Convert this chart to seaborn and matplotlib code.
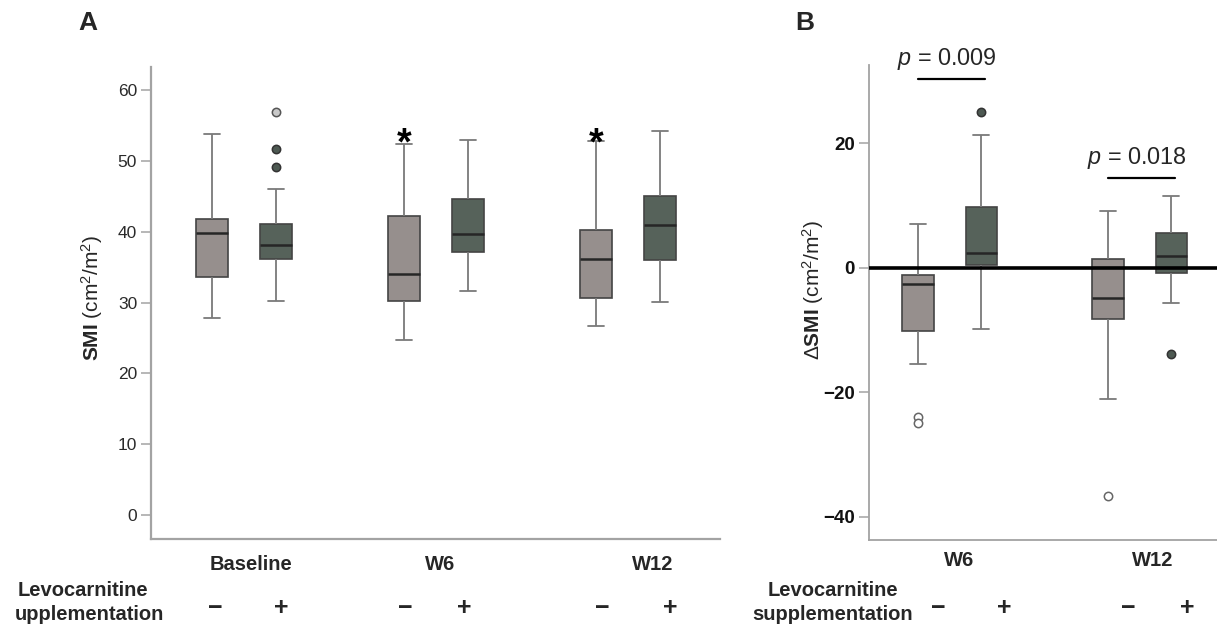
import numpy as np
import pandas as pd
import matplotlib
matplotlib.use("Agg")
import matplotlib.pyplot as plt
import matplotlib.transforms as mtransforms
import seaborn as sns

# ---------------- Data ----------------
# Panel A: SMI (cm2/m2)
a_order = ["Baseline −", "Baseline +", "gapA1", "W6 −", "W6 +", "gapA2", "W12 −", "W12 +"]
a_boxes = ["Baseline −", "Baseline +", "W6 −", "W6 +", "W12 −", "W12 +"]
a_treat = ["−", "+", "−", "+", "−", "+"]
a_low = [27.9, 30.2, 24.7, 31.6, 26.7, 30.1]
a_q1 = [33.6, 36.1, 30.2, 37.1, 30.6, 36.0]
a_med = [39.8, 38.1, 34.0, 39.7, 36.2, 41.0]
a_q3 = [41.8, 41.1, 42.2, 44.6, 40.3, 45.1]
a_high = [53.8, 46.0, 52.4, 53.0, 52.9, 54.2]
a_out_box = ["Baseline +", "Baseline +", "Baseline +"]
a_out_val = [49.2, 51.7, 56.9]
a_out_style = ["dark", "dark", "light"]
a_star_boxes = ["W6 −", "W12 −"]
a_groups = ["Baseline", "W6", "W12"]
a_ticks = [0, 10, 20, 30, 40, 50, 60]

# Panel B: delta SMI (cm2/m2)
b_order = ["W6 −", "W6 +", "gapB", "W12 −", "W12 +"]
b_boxes = ["W6 −", "W6 +", "W12 −", "W12 +"]
b_treat = ["−", "+", "−", "+"]
b_low = [-15.4, -9.8, -21.1, -5.6]
b_q1 = [-10.1, 0.5, -8.2, -0.8]
b_med = [-2.6, 2.4, -4.8, 1.9]
b_q3 = [-1.1, 9.8, 1.4, 5.6]
b_high = [7.1, 21.4, 9.2, 11.6]
b_out_box = ["W6 −", "W6 −", "W6 +", "W12 −", "W12 +"]
b_out_val = [-24.0, -24.9, 25.1, -36.7, -13.8]
b_out_style = ["open", "open", "dark", "open", "dark"]
b_groups = ["W6", "W12"]
b_ticks = [-40, -20, 0, 20]
b_pvals = ["0.009", "0.018"]
b_pairs = [("W6 −", "W6 +"), ("W12 −", "W12 +")]
b_pline_y = [30.3, 14.4]

# ---------------- Style ----------------
sns.set_theme(style="white")
plt.rcParams["font.family"] = ["Liberation Sans", "DejaVu Sans"]
plt.rcParams["mathtext.fontset"] = "custom"
plt.rcParams["mathtext.rm"] = "Liberation Sans"
plt.rcParams["mathtext.it"] = "Liberation Sans:italic"
plt.rcParams["mathtext.bf"] = "Liberation Sans:bold"

LIGHT = "#968f8d"
DARK = "#56625a"
pal = {"−": LIGHT, "+": DARK}
out_styles = {
    "dark": dict(color="#4d5952", edgecolor="#333333"),
    "light": dict(color="#c9c9c9", edgecolor="#555555"),
    "open": dict(color="white", edgecolor="#666666"),
}


def summary_frame(boxes, treat, lo, q1, med, q3, hi):
    rows = []
    for b, t, *vals in zip(boxes, treat, lo, q1, med, q3, hi):
        for v in vals:
            rows.append({"box": b, "treat": t, "val": v})
    return pd.DataFrame(rows)


def draw_boxes(ax, df, order):
    sns.boxplot(
        data=df, x="box", y="val", hue="treat", order=order, hue_order=["−", "+"],
        palette=pal, dodge=False, width=0.5, whis=(0, 100), saturation=1,
        showfliers=False, legend=False, ax=ax, linecolor="#444444", linewidth=1.2,
        whiskerprops=dict(color="#7a7a7a", linewidth=1.3),
        capprops=dict(color="#7a7a7a", linewidth=1.3),
        medianprops=dict(color="#262626", linewidth=1.8),
        boxprops=dict(edgecolor="#444444", linewidth=1.2),
    )


def draw_outliers(ax, boxes, vals, styles, order):
    odf = pd.DataFrame({"box": boxes, "val": vals, "style": styles})
    for s, kw in out_styles.items():
        sub = odf[odf["style"] == s]
        if len(sub) == 0:
            continue
        sns.stripplot(data=sub, x="box", y="val", order=order, jitter=False,
                      size=6, linewidth=1.1, ax=ax, zorder=4, **kw)


fig = plt.figure(figsize=(12.17, 6.27), dpi=100)
W, H = 1217.0, 627.0

def fx(px):
    return px / W

def fy(py):
    return 1 - py / H

axA = fig.add_axes([fx(151), fy(539), fx(720) - fx(151), fy(67) - fy(539)])
axB = fig.add_axes([fx(869), fy(540), 1.0 - fx(869), fy(65) - fy(540)])

# ---------------- Panel A ----------------
dfA = summary_frame(a_boxes, a_treat, a_low, a_q1, a_med, a_q3, a_high)
draw_boxes(axA, dfA, a_order)
draw_outliers(axA, a_out_box, a_out_val, a_out_style, a_order)
axA.set_xlim(-0.953, 7.94)
axA.set_ylim(-3.4, 63.3)
axA.set_yticks(a_ticks)
axA.set_yticklabels([str(t) for t in a_ticks], fontsize=12.5, color="#2a2a2a")
axA.set_xticks([])
axA.set_xlabel("")
axA.set_ylabel("")
for side in ["top", "right"]:
    axA.spines[side].set_visible(False)
for side in ["left", "bottom"]:
    axA.spines[side].set_color("#a3a3a3")
    axA.spines[side].set_linewidth(1.6)
axA.tick_params(axis="y", direction="out", length=7, width=1.1, color="#a3a3a3", pad=3, left=True)

for b in a_star_boxes:
    i = a_order.index(b)
    axA.text(i, 51.0, "*", ha="center", va="baseline", fontsize=27, fontweight="bold", color="black")

tA = mtransforms.blended_transform_factory(axA.transData, fig.transFigure)
a_group_x = [0.61, 3.56, 6.89]
for g, x in zip(a_groups, a_group_x):
    fig.text(x, fy(565), g, transform=tA, ha="center", va="center", fontsize=14.5, fontweight="bold")
a_sign_x = [0.05, 1.08, 3.02, 3.95, 6.1, 7.16]
for t, x in zip(a_treat, a_sign_x):
    fig.text(x, fy(608), t, transform=tA, ha="center", va="center", fontsize=18, fontweight="bold")

fig.text(fx(83), fy(591), "Levocarnitine", ha="center", va="center", fontsize=14.5, fontweight="bold")
fig.text(fx(89), fy(615), "upplementation", ha="center", va="center", fontsize=14.5, fontweight="bold")
fig.text(fx(92), fy(298), r"$\mathbf{SMI}$ (cm$^{2}$/m$^{2}$)", rotation=90,
         ha="center", va="center", fontsize=15)
fig.text(fx(88), fy(23), "A", ha="center", va="center", fontsize=19, fontweight="bold")

# ---------------- Panel B ----------------
dfB = summary_frame(b_boxes, b_treat, b_low, b_q1, b_med, b_q3, b_high)
draw_boxes(axB, dfB, b_order)
draw_outliers(axB, b_out_box, b_out_val, b_out_style, b_order)
axB.axhline(0, color="black", linewidth=2.6, zorder=6)
axB.set_xlim(-0.774, 4.72)
axB.set_ylim(-43.7, 32.6)
axB.set_yticks(b_ticks)
axB.set_yticklabels(["−40", "−20", "0", "20"], fontsize=13.5, fontweight="bold", color="#111111")
axB.set_xticks([])
axB.set_xlabel("")
axB.set_ylabel("")
for side in ["top", "right"]:
    axB.spines[side].set_visible(False)
for side in ["left", "bottom"]:
    axB.spines[side].set_color("#a3a3a3")
    axB.spines[side].set_linewidth(1.3)
axB.tick_params(axis="y", direction="out", length=7, width=1.1, color="#a3a3a3", pad=3, left=True)

for (l, r), p, yl in zip(b_pairs, b_pvals, b_pline_y):
    x0, x1 = b_order.index(l), b_order.index(r)
    axB.plot([x0, x1 + 0.05], [yl, yl], color="black", linewidth=1.6, clip_on=False, zorder=6)
    axB.text((x0 + x1) / 2 - 0.05, yl + 1.1, r"$\mathit{p}$ = " + p, ha="center", va="bottom",
             fontsize=16.8, clip_on=False)

tB = mtransforms.blended_transform_factory(axB.transData, fig.transFigure)
b_group_x = [0.65, 3.71]
for g, x in zip(b_groups, b_group_x):
    fig.text(x, fy(560), g, transform=tB, ha="center", va="center", fontsize=14.5, fontweight="bold")
b_sign_x = [0.32, 1.36, 3.32, 4.25]
for t, x in zip(b_treat, b_sign_x):
    fig.text(x, fy(608), t, transform=tB, ha="center", va="center", fontsize=18, fontweight="bold")

fig.text(fx(833), fy(591), "Levocarnitine", ha="center", va="center", fontsize=14.5, fontweight="bold")
fig.text(fx(833), fy(615), "supplementation", ha="center", va="center", fontsize=14.5, fontweight="bold")
fig.text(fx(813), fy(290), r"Δ$\mathbf{SMI}$ (cm$^{2}$/m$^{2}$)", rotation=90,
         ha="center", va="center", fontsize=15)
fig.text(fx(805), fy(23), "B", ha="center", va="center", fontsize=19, fontweight="bold")

fig.savefig("out.png", dpi=100, facecolor="white")
